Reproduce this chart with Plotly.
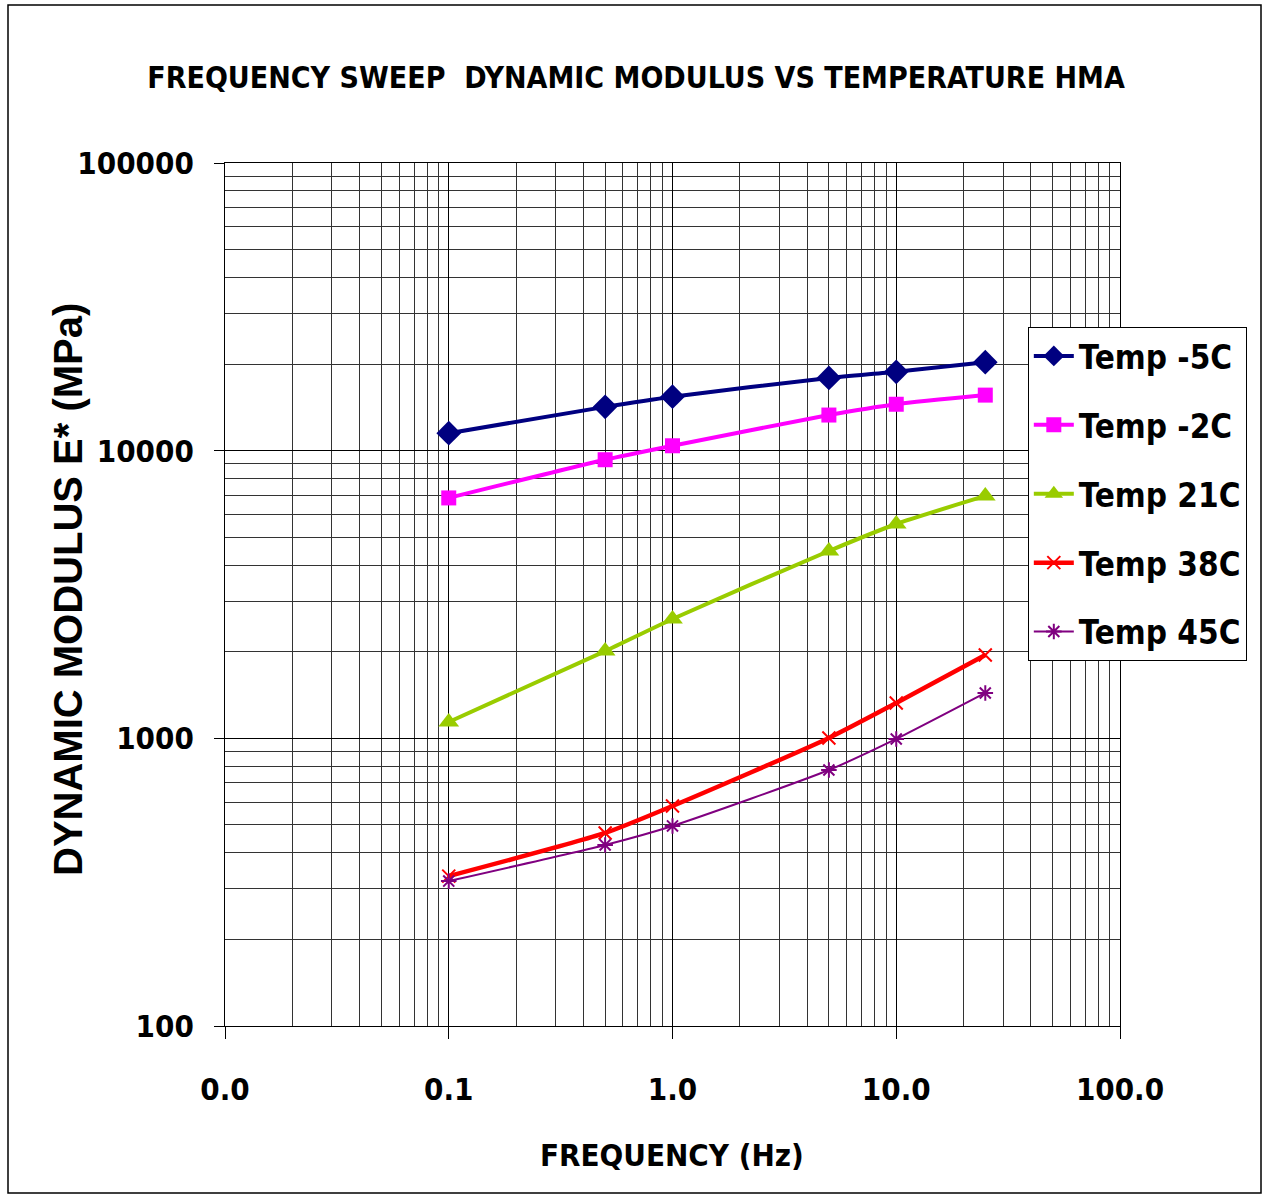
import plotly.graph_objects as go

freq = [0.1, 0.5, 1.0, 5.0, 10.0, 25.0]
temp_m5 = [11500, 14200, 15400, 17900, 18800, 20300]
temp_m2 = [6850, 9300, 10400, 13300, 14500, 15600]
temp_21 = [1140, 2010, 2600, 4480, 5560, 6960]
temp_38 = [332, 469, 582, 1003, 1327, 1948]
temp_45 = [319, 426, 496, 776, 995, 1438]

series_names = ["Temp -5C", "Temp -2C", "Temp 21C", "Temp 38C", "Temp 45C"]
x_tickvals = [0.01, 0.1, 1, 10, 100]
x_ticktext = ["0.0", "0.1", "1.0", "10.0", "100.0"]
y_tickvals = [100, 1000, 10000, 100000]
y_ticktext = ["100", "1000", "10000", "100000"]

NARROW = "Liberation Sans Narrow, DejaVu Sans Condensed, Arial Narrow, Liberation Sans, sans-serif"
WIDE = "Liberation Sans, Arial, sans-serif"

styles = [
    dict(color="#000080", width=4, symbol="diamond", size=19, mline=0),
    dict(color="#FF00FF", width=4, symbol="square", size=15, mline=0),
    dict(color="#99CC00", width=4, symbol="triangle-up", size=18, mline=0),
    dict(color="#FF0000", width=4.5, symbol="x-thin-open", size=13, mline=2),
    dict(color="#800080", width=2, symbol="asterisk-open", size=13, mline=2),
]
data = [temp_m5, temp_m2, temp_21, temp_38, temp_45]

fig = go.Figure()
for i, (name, vals, st) in enumerate(zip(series_names, data, styles)):
    fig.add_trace(go.Scatter(
        x=freq, y=vals, name=name, mode="lines+markers",
        legendgroup=f"g{i}",
        line=dict(color=st["color"], width=st["width"], shape="spline", smoothing=0.6),
        marker=dict(symbol=st["symbol"], size=st["size"], color=st["color"],
                    line=dict(color=st["color"], width=st["mline"])),
    ))

fig.update_layout(
    width=1262, height=1195,
    margin=dict(l=225, r=142, t=163, b=169, autoexpand=False),
    paper_bgcolor="white", plot_bgcolor="white",
    showlegend=True,
    title=dict(text="FREQUENCY SWEEP  DYNAMIC MODULUS VS TEMPERATURE HMA",
               x=0.504, xanchor="center", y=1 - 77 / 1195, yanchor="middle",
               font=dict(family=NARROW, size=30, color="black", weight="bold")),
    legend=dict(x=0.897, y=(1026 - 327) / 863, xanchor="left", yanchor="top",
                bordercolor="black", borderwidth=1, bgcolor="white",
                font=dict(family=NARROW, size=33, color="black", weight="bold"),
                tracegroupgap=23, traceorder="grouped", itemwidth=40),
    font=dict(family=NARROW, color="black"),
)

fig.update_xaxes(
    type="log", range=[-2, 2],
    tickvals=x_tickvals, ticktext=x_ticktext,
    ticks="outside", ticklen=12, tickcolor="black", tickwidth=1,
    ticklabelstandoff=24,
    tickfont=dict(family=NARROW, size=31, color="black", weight="bold"),
    showgrid=True, gridcolor="black", gridwidth=1,
    minor=dict(showgrid=True, gridcolor="#333333", gridwidth=1, dtick="D1", ticks=""),
    showline=True, linecolor="black", linewidth=1, mirror=True,
    zeroline=False,
)
fig.update_yaxes(
    type="log", range=[2, 5],
    tickvals=y_tickvals, ticktext=y_ticktext,
    ticks="outside", ticklen=10, tickcolor="black", tickwidth=1,
    ticklabelstandoff=14,
    tickfont=dict(family=NARROW, size=31, color="black", weight="bold"),
    showgrid=True, gridcolor="black", gridwidth=1,
    minor=dict(showgrid=True, gridcolor="#333333", gridwidth=1, dtick="D1", ticks=""),
    showline=True, linecolor="black", linewidth=1, mirror=True,
    zeroline=False,
)

fig.add_annotation(text="FREQUENCY (Hz)", xref="paper", yref="paper",
                   x=(672 - 225) / 895, y=(1026 - 1155) / 863,
                   xanchor="center", yanchor="middle", showarrow=False,
                   font=dict(family=NARROW, size=31, color="black", weight="bold"))
fig.add_annotation(text="DYNAMIC MODULUS E* (MPa)", xref="paper", yref="paper",
                   x=(68 - 225) / 895, y=(1026 - 590) / 863, textangle=-90,
                   xanchor="center", yanchor="middle", showarrow=False,
                   font=dict(family=WIDE, size=40, color="black", weight="bold"))

fig.add_shape(type="rect", xref="paper", yref="paper",
              x0=(8 - 225) / 895, x1=(1261 - 225) / 895,
              y0=(1026 - 1193) / 863, y1=(1026 - 5) / 863,
              line=dict(color="black", width=1.5), fillcolor="rgba(0,0,0,0)", layer="below")

fig.write_html("out.html")
